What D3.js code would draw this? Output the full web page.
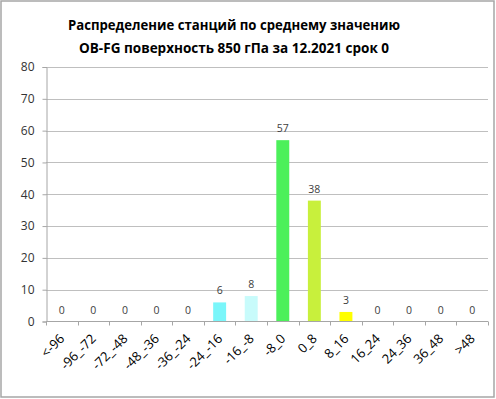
<!DOCTYPE html>
<html lang="ru">
<meta charset="utf-8">

<head>
    <style>
        body {
            margin: 0;
            background: #fff;
        }
        svg text {
            font-family: "Open Sans", "Liberation Sans", sans-serif;
        }
    </style>
    <script src="https://d3js.org/d3.v7.min.js"></script>
</head>

<body>

</body>
<script>
    // data
    var categories = ["<-96", "-96_-72", "-72_-48", "-48_-36", "-36_-24", "-24_-16", "-16_-8",
        "-8_0", "0_8", "8_16", "16_24", "24_36", "36_48", ">48"];
    var counts = [0, 0, 0, 0, 0, 6, 8, 57, 38, 3, 0, 0, 0, 0];
    var barColors = ["#7af6fa", "#7af6fa", "#7af6fa", "#7af6fa", "#7af6fa", "#7af6fa", "#c8fbfb",
        "#4cf05a", "#c8f03c", "#ffff00", "#ffff00", "#ffff00", "#ffff00", "#ffff00"];
    var yTicks = [0, 10, 20, 30, 40, 50, 60, 70, 80];
    var titleLines = ["Распределение станций по среднему значению",
        "OB-FG поверхность  850 гПа за 12.2021 срок  0"];

    var svgWidth = 496;
    var svgHeight = 399;
    var plotLeft = 46, plotRight = 488, plotTop = 67, plotBottom = 321.5;

    var svg = d3.select("body")
        .append("svg")
        .attr("width", svgWidth)
        .attr("height", svgHeight);

    // outer frame
    svg.append("rect")
        .attr("x", 1).attr("y", 1)
        .attr("width", 493).attr("height", 396)
        .attr("fill", "#fff")
        .attr("stroke", "#a6a6a6")
        .attr("stroke-width", 1.5);

    // title
    svg.selectAll(".title")
        .data(titleLines)
        .enter()
        .append("text")
        .attr("class", "title")
        .attr("x", 234)
        .attr("y", function (d, i) { return 30 + i * 23; })
        .attr("text-anchor", "middle")
        .attr("font-size", 14)
        .attr("font-weight", "bold")
        .attr("fill", "#000")
        .attr("textLength", function (d, i) { return i == 0 ? 332 : 310; })
        .attr("lengthAdjust", "spacingAndGlyphs")
        .text(function (d) { return d; });

    var x = d3.scaleBand()
        .domain(categories)
        .range([plotLeft, plotRight])
        .paddingInner(0.59)
        .paddingOuter(0.295);

    var xb = d3.scaleLinear().domain([0, categories.length]).range([plotLeft, plotRight]);

    var y = d3.scaleLinear()
        .domain([0, 80])
        .range([plotBottom, plotTop]);

    // gridlines
    svg.append("g")
        .selectAll("line")
        .data(yTicks.slice(1))
        .enter()
        .append("line")
        .attr("x1", plotLeft).attr("x2", plotRight)
        .attr("y1", function (d) { return Math.round(y(d)) + 0.5; })
        .attr("y2", function (d) { return Math.round(y(d)) + 0.5; })
        .attr("stroke", "#bfbfbf")
        .attr("stroke-width", 1);

    // y axis
    var yAxis = svg.append("g")
        .attr("transform", "translate(" + (plotLeft + 0.5) + ",0)")
        .call(d3.axisLeft(y).tickValues(yTicks).tickSize(4).tickPadding(8));
    yAxis.select(".domain").attr("stroke", "#a6a6a6");
    yAxis.selectAll(".tick line").attr("stroke", "#a6a6a6");
    yAxis.selectAll("text").attr("font-size", 12).attr("fill", "#333")
        .attr("font-family", "'Open Sans', 'Liberation Sans', sans-serif");

    // bars
    svg.append("g")
        .selectAll("rect")
        .data(counts)
        .enter()
        .append("rect")
        .attr("x", function (d, i) { return x(categories[i]); })
        .attr("y", function (d) { return y(d); })
        .attr("width", x.bandwidth())
        .attr("height", function (d) { return plotBottom - y(d); })
        .attr("fill", function (d, i) { return barColors[i]; });

    // x axis line and boundary ticks
    svg.append("line")
        .attr("x1", plotLeft).attr("x2", plotRight)
        .attr("y1", plotBottom).attr("y2", plotBottom)
        .attr("stroke", "#a6a6a6");
    svg.append("g")
        .selectAll("line")
        .data(d3.range(categories.length + 1))
        .enter()
        .append("line")
        .attr("x1", function (d) { return Math.round(xb(d)) + 0.5; })
        .attr("x2", function (d) { return Math.round(xb(d)) + 0.5; })
        .attr("y1", plotBottom).attr("y2", plotBottom + 4)
        .attr("stroke", "#a6a6a6");

    // value labels
    svg.append("g")
        .selectAll("text")
        .data(counts)
        .enter()
        .append("text")
        .attr("x", function (d, i) { return x(categories[i]) + x.bandwidth() / 2; })
        .attr("y", function (d) { return y(d) - 8; })
        .attr("text-anchor", "middle")
        .attr("font-size", 10.5)
        .attr("fill", "#404040")
        .text(function (d) { return d; });

    // category labels, rotated
    svg.append("g")
        .selectAll("text")
        .data(categories)
        .enter()
        .append("text")
        .attr("transform", function (d) {
            return "translate(" + (x(d) + x.bandwidth() / 2 + 3.5) + "," + (plotBottom + 18) + ") rotate(-45)";
        })
        .attr("text-anchor", "end")
        .attr("font-size", 13)
        .attr("fill", "#000")
        .text(function (d) { return d; });
</script>

</html>
